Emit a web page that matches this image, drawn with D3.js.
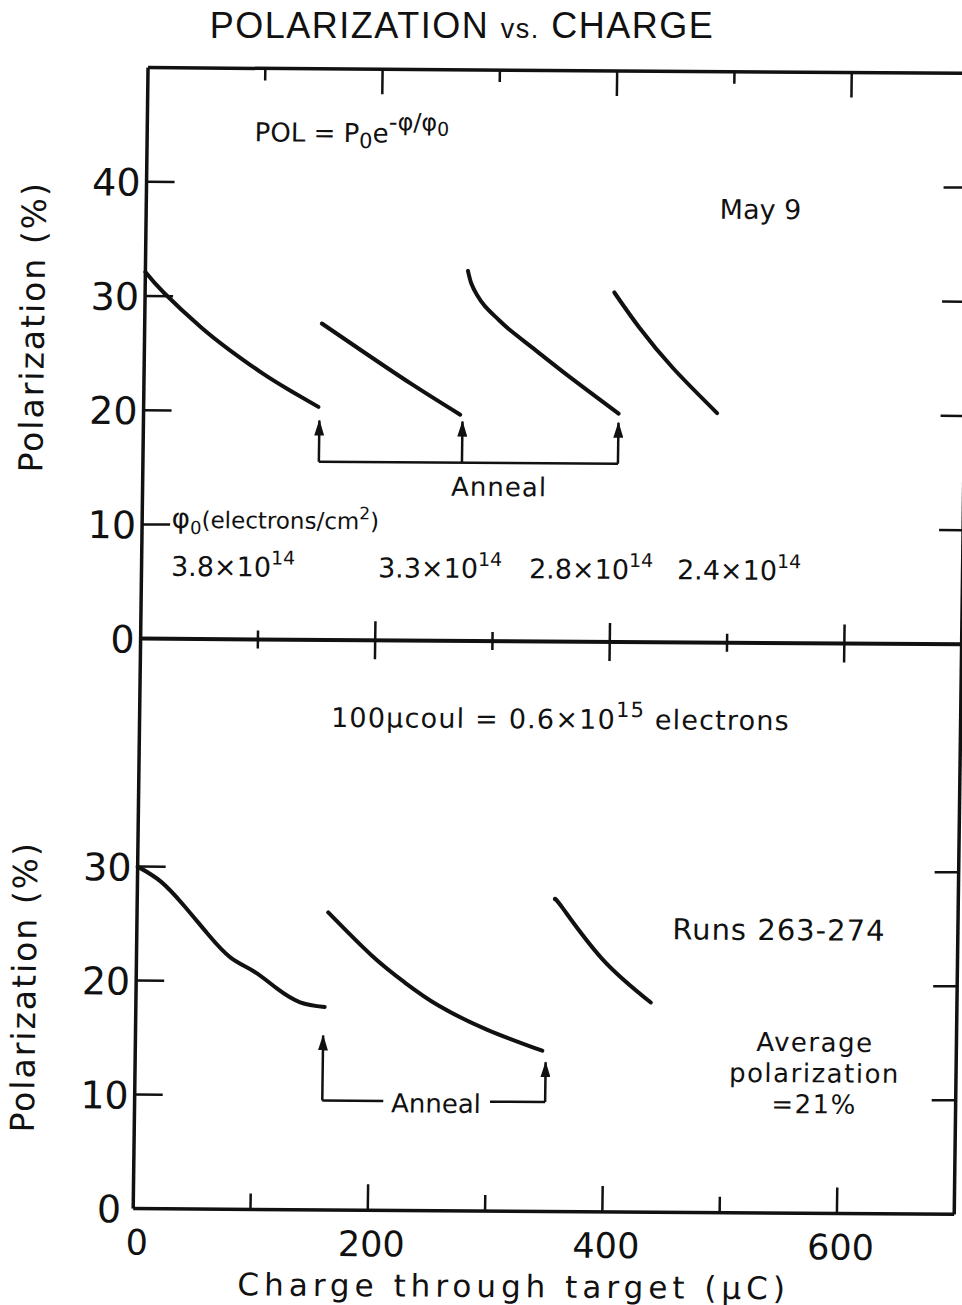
<!DOCTYPE html>
<html>
<head>
<meta charset="utf-8">
<script src="https://cdn.jsdelivr.net/npm/d3@7"></script>
<style>
  body { margin: 0; background: #fff; }
  text { font-family: "DejaVu Sans", sans-serif; fill: #111; }
</style>
</head>
<body>
<svg id="chart" width="962" height="1305"></svg>
<script>
// Axis ticks
const xTicks = [100, 200, 300, 400, 500, 600];
const xMajor = [200, 400, 600];
const xTickLabels = [0, 200, 400, 600];
const topYTicks = [10, 20, 30, 40];
const topYLabels = [0, 10, 20, 30, 40];
const bottomYTicks = [10, 20, 30];
const bottomYLabels = [0, 10, 20, 30];

// Top panel (May 9): polarization (%) vs charge (uC), one run per anneal
const topRun1 = [[0, 32.1], [16, 30.3], [48, 27.3], [73, 25.3], [101, 23.3], [125, 21.8], [149, 20.4]];
const topRun2 = [[151, 27.7], [186, 25.3], [229, 22.4], [270, 19.8]];
const topRun3 = [[275, 32.4], [278, 31.3], [283, 30.3], [290, 29.3], [300, 28.3], [312, 27.2], [331, 25.7], [360, 23.4], [405, 20.0]];
const topRun4 = [[400, 30.6], [422, 27.5], [451, 24.0], [489, 20.1]];
const topAnneal = [150, 272, 405];
const phiLabels = ["3.8", "3.3", "2.8", "2.4"];

// Bottom panel (Runs 263-274)
const botRun1 = [[0, 30.0], [20, 28.7], [40, 26.6], [60, 24.2], [80, 22.1], [100, 20.9], [120, 19.4], [140, 18.2], [161, 17.8]];
const botRun2 = [[163, 26.1], [201, 22.3], [229, 20.0], [258, 18.0], [300, 15.9], [347, 14.1]];
const botRun3 = [[356, 27.4], [363, 26.6], [397, 22.2], [439, 18.4]];
const botAnneal = [160, 350];
const botAnnealTips = [15.3, 13.1];

const svg = d3.select("#chart");

// the scanned page is slightly skewed
const g = svg.append("g")
  .attr("transform", "matrix(1,0.007,-0.013,1,8.45,-3.36)");

const x = d3.scaleLinear().domain([0, 700]).range([140.5, 961.5]);
const yTop = d3.scaleLinear().domain([0, 50]).range([641, 70]);
const yBot = d3.scaleLinear().domain([0, 50]).range([1211, 641]);

// arrow head
svg.append("defs").append("marker")
  .attr("id", "head")
  .attr("viewBox", "0 0 16 10")
  .attr("refX", 15).attr("refY", 5)
  .attr("markerWidth", 16).attr("markerHeight", 10)
  .attr("markerUnits", "userSpaceOnUse")
  .attr("orient", "auto")
  .append("path")
  .attr("d", "M0,0 L16,5 L0,10 Z")
  .attr("fill", "#111");

// Frame lines
function hline(y, w) {
  g.append("line").attr("x1", x(0)).attr("x2", x(700))
    .attr("y1", y).attr("y2", y)
    .attr("stroke", "#111").attr("stroke-width", w);
}
hline(yTop(50), 3.5);
hline(yTop(0), 4);
hline(yBot(0), 3.5);
g.append("line").attr("x1", x(0)).attr("x2", x(0))
  .attr("y1", yTop(50)).attr("y2", yBot(0))
  .attr("stroke", "#111").attr("stroke-width", 3.5);
g.append("line").attr("x1", x(700)).attr("x2", x(700))
  .attr("y1", yTop(50)).attr("y2", yBot(0))
  .attr("stroke", "#111").attr("stroke-width", 3.5);

// x ticks on top border (downwards), zero line (crossing), bottom axis (upwards)
function xTickLines(y, up, down) {
  g.append("g").selectAll("line")
    .data(xTicks).enter().append("line")
    .attr("x1", d => x(d)).attr("x2", d => x(d))
    .attr("y1", d => y - up(d)).attr("y2", d => y + down(d))
    .attr("stroke", "#111").attr("stroke-width", 2.5);
}
xTickLines(yTop(50), () => 0, d => xMajor.includes(d) ? 25 : 12);
xTickLines(yTop(0), d => xMajor.includes(d) ? 19 : 9, d => xMajor.includes(d) ? 19 : 9);
xTickLines(yBot(0), d => xMajor.includes(d) ? 26 : 16, () => 0);

// y ticks, pointing inwards from both sides
function yTickLines(scale, ticks) {
  g.append("g").selectAll("line")
    .data(ticks).enter().append("line")
    .attr("x1", x(0)).attr("x2", x(0) + 28)
    .attr("y1", d => scale(d)).attr("y2", d => scale(d))
    .attr("stroke", "#111").attr("stroke-width", 2.5);
  g.append("g").selectAll("line")
    .data(ticks).enter().append("line")
    .attr("x1", x(700) - 24).attr("x2", x(700))
    .attr("y1", d => scale(d)).attr("y2", d => scale(d))
    .attr("stroke", "#111").attr("stroke-width", 2.5);
}
yTickLines(yTop, topYTicks);
yTickLines(yBot, bottomYTicks);

// tick labels
g.append("g").selectAll("text")
  .data(topYLabels).enter().append("text")
  .attr("x", x(0) - 6).attr("y", d => yTop(d) + 14)
  .attr("text-anchor", "end")
  .style("font-size", "38px")
  .text(d => d);
g.append("g").selectAll("text")
  .data(bottomYLabels).enter().append("text")
  .attr("x", d => d === 0 ? x(0) - 12 : x(0) - 6)
  .attr("y", d => yBot(d) + 14)
  .attr("text-anchor", "end")
  .style("font-size", "38px")
  .text(d => d);
g.append("g").selectAll("text")
  .data(xTickLabels).enter().append("text")
  .attr("x", d => x(d) + 4).attr("y", yBot(0) + 46)
  .attr("text-anchor", "middle")
  .style("font-size", "35px")
  .text(d => d);

// curves
const line = (scale) => d3.line()
  .x(d => x(d[0])).y(d => scale(d[1]))
  .curve(d3.curveNatural);
[topRun1, topRun2, topRun3, topRun4].forEach(run => {
  g.append("path").attr("d", line(yTop)(run))
    .attr("fill", "none").attr("stroke", "#111")
    .attr("stroke-width", 4).attr("stroke-linecap", "round");
});
[botRun1, botRun2, botRun3].forEach(run => {
  g.append("path").attr("d", line(yBot)(run))
    .attr("fill", "none").attr("stroke", "#111")
    .attr("stroke-width", 4).attr("stroke-linecap", "round");
});

// anneal arrows, top panel
topAnneal.forEach(a => {
  g.append("line")
    .attr("x1", x(a)).attr("x2", x(a))
    .attr("y1", yTop(15.6)).attr("y2", yTop(19.2))
    .attr("stroke", "#111").attr("stroke-width", 2.5)
    .attr("marker-end", "url(#head)");
});
g.append("line")
  .attr("x1", x(topAnneal[0])).attr("x2", x(topAnneal[2]))
  .attr("y1", yTop(15.6)).attr("y2", yTop(15.6))
  .attr("stroke", "#111").attr("stroke-width", 2.5);
g.append("text")
  .attr("x", x(304)).attr("y", yTop(12.7))
  .attr("text-anchor", "middle")
  .style("font-size", "26px")
  .style("letter-spacing", "1px")
  .text("Anneal");

// anneal arrows, bottom panel
botAnneal.forEach((a, i) => {
  g.append("line")
    .attr("x1", x(a)).attr("x2", x(a))
    .attr("y1", yBot(9.6)).attr("y2", yBot(botAnnealTips[i]))
    .attr("stroke", "#111").attr("stroke-width", 2.5)
    .attr("marker-end", "url(#head)");
});
g.append("line")
  .attr("x1", x(botAnneal[0])).attr("x2", x(212))
  .attr("y1", yBot(9.6)).attr("y2", yBot(9.6))
  .attr("stroke", "#111").attr("stroke-width", 2.5);
g.append("line")
  .attr("x1", x(303)).attr("x2", x(botAnneal[1]))
  .attr("y1", yBot(9.6)).attr("y2", yBot(9.6))
  .attr("stroke", "#111").attr("stroke-width", 2.5);
g.append("text")
  .attr("x", x(257)).attr("y", yBot(8.6))
  .attr("text-anchor", "middle")
  .style("font-size", "26px")
  .text("Anneal");

// title and axis titles
svg.append("text")
  .attr("x", 462).attr("y", 38)
  .attr("text-anchor", "middle")
  .style("font-family", "Liberation Sans, sans-serif")
  .style("font-size", "36px")
  .style("letter-spacing", "1.5px")
  .html('POLARIZATION <tspan style="font-size:27px">vs.</tspan> CHARGE');

g.append("text")
  .attr("transform", "translate(40,330) rotate(-90)")
  .attr("text-anchor", "middle")
  .style("font-size", "33px")
  .style("letter-spacing", "2px")
  .text("Polarization (%)");
g.append("text")
  .attr("transform", "translate(40,990) rotate(-90)")
  .attr("text-anchor", "middle")
  .style("font-size", "33px")
  .style("letter-spacing", "2px")
  .text("Polarization (%)");
g.append("text")
  .attr("x", 522).attr("y", 1297)
  .attr("text-anchor", "middle")
  .style("font-size", "31px")
  .style("letter-spacing", "5px")
  .text("Charge through target (\u03bcC)");

// annotations, top panel
const pol = g.append("text").attr("x", 248).attr("y", 143).style("font-size", "26px");
pol.append("tspan").text("POL = P");
pol.append("tspan").attr("dy", 6).style("font-size", "21px").text("0");
pol.append("tspan").attr("dy", -6).text("e");
pol.append("tspan").attr("dy", -12).style("font-size", "24px").text("-\u03c6/\u03c6");
pol.append("tspan").attr("dy", 5).style("font-size", "19px").text("0");

g.append("text").attr("x", 714).attr("y", 217)
  .style("font-size", "27px").text("May 9");

const phi = g.append("text").attr("x", 170).attr("y", 530).style("font-size", "23px");
phi.append("tspan").style("font-size", "28px").text("\u03c6");
phi.append("tspan").attr("dy", 6).style("font-size", "18px").text("0");
phi.append("tspan").attr("dy", -6).text("(electrons/cm");
phi.append("tspan").attr("dy", -10).style("font-size", "17px").text("2");
phi.append("tspan").attr("dy", 10).text(")");

const phiX = [170, 377, 528, 676];
phiLabels.forEach((p, i) => {
  const t = g.append("text").attr("x", phiX[i]).attr("y", 578).style("font-size", "27px");
  t.append("tspan").text(p + "\u00d710");
  t.append("tspan").attr("dy", -12).style("font-size", "19px").text("14");
});

// annotations, bottom panel
const conv = g.append("text").attr("x", 332).attr("y", 728)
  .style("font-size", "27px").style("letter-spacing", "1.2px");
conv.append("tspan").text("100\u03bccoul = 0.6\u00d710");
conv.append("tspan").attr("dy", -12).style("font-size", "21px").text("15");
conv.append("tspan").attr("dy", 12).text(" electrons");

g.append("text").attr("x", 676).attr("y", 938)
  .style("font-size", "29px").style("letter-spacing", "1px").text("Runs 263-274");

["Average", "polarization", "=21%"].forEach((s, i) => {
  g.append("text").attr("x", 820).attr("y", 1049 + i * 31)
    .attr("text-anchor", "middle")
    .style("font-size", "26px").style("letter-spacing", "1.5px").text(s);
});
</script>
</body>
</html>
